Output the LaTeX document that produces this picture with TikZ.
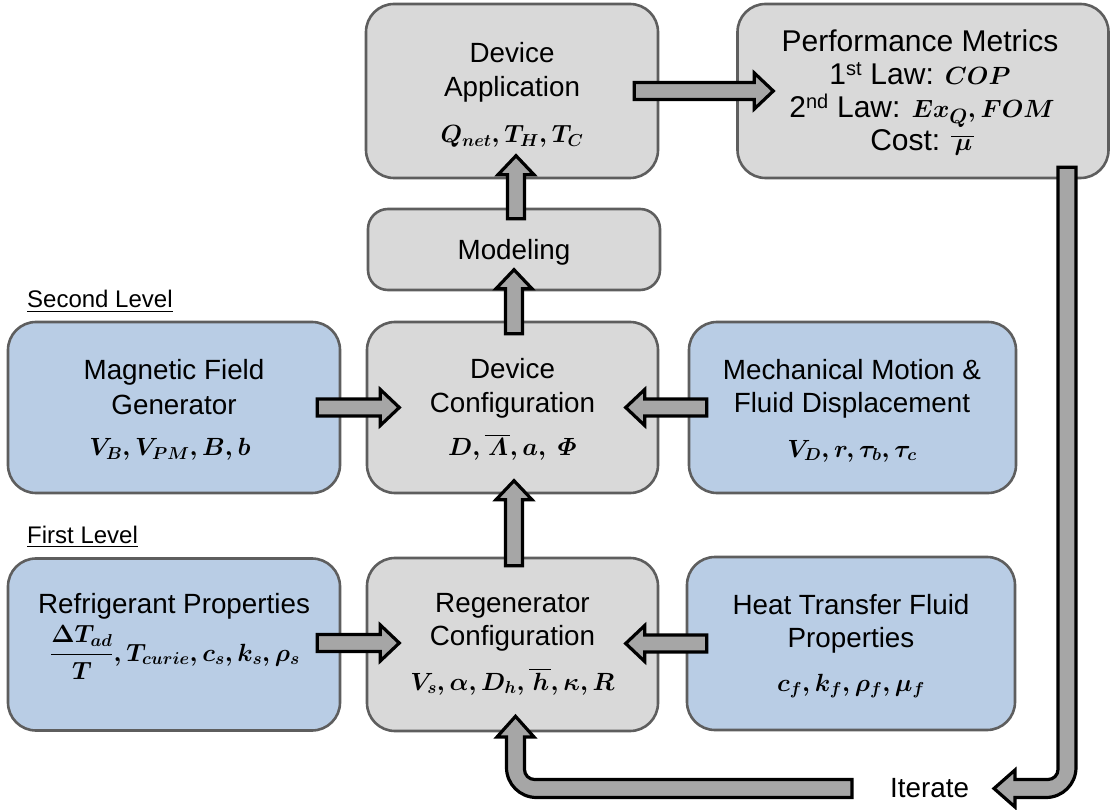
\documentclass[tikz,border=0pt]{standalone}
\usepackage{fontspec}
\setmainfont{Liberation Sans}
\usepackage{amsmath}
\DeclareMathSizes{24.5}{24.5}{19}{15}
\DeclareMathSizes{30}{26}{20}{16}
\usetikzlibrary{calc}
\definecolor{boxgray}{HTML}{D9D9D9}
\definecolor{boxblue}{HTML}{B9CDE5}
\definecolor{bordergray}{HTML}{5E5E5E}
\definecolor{arrowgray}{HTML}{A6A6A6}
\newcommand{\blockarr}[3]{%
  \draw[blockarrow,shift={(#1)},rotate=#2] (0,-8.5) -- ({#3-19},-8.5) -- ({#3-19},-18) -- (#3,0) -- ({#3-19},18) -- ({#3-19},8.5) -- (0,8.5) -- cycle;}
\newcommand{\sbar}[1]{\overline{\mkern2mu#1\mkern1mu}}
\begin{document}
\begin{tikzpicture}[x=1pt,y=-1pt,
  box/.style={draw=bordergray, line width=2.6pt, rounded corners=28pt, inner sep=0pt},
  graybox/.style={box, fill=boxgray},
  bluebox/.style={box, fill=boxblue},
  title/.style={font=\fontsize{27.8}{33}\selectfont, inner sep=0pt, anchor=base},
  ptitle/.style={font=\fontsize{30}{36}\selectfont\boldmath, inner sep=0pt, anchor=base},
  mathlbl/.style={font=\fontsize{24.5}{29}\selectfont\boldmath, inner sep=0pt, anchor=base},
  blockarrow/.style={draw=black, fill=arrowgray, line width=3.2pt},
  lvl/.style={font=\fontsize{24}{28}\selectfont, inner sep=0pt, anchor=base west}]
\useasboundingbox (0,0) rectangle (1112,810);

% boxes
\node[graybox, minimum width=292, minimum height=174] (app) at (512,91) {};
\node[graybox, minimum width=371, minimum height=174] (perf) at (923,91) {};
\node[graybox, minimum width=292, minimum height=81, rounded corners=20pt] (model) at (514,249.5) {};
\node[bluebox, minimum width=332, minimum height=171] (mag) at (174,407.5) {};
\node[graybox, minimum width=291, minimum height=171] (dev) at (512.5,407.5) {};
\node[bluebox, minimum width=327, minimum height=171] (mech) at (852.5,407.5) {};
\node[bluebox, minimum width=332, minimum height=172] (ref) at (174,644.5) {};
\node[graybox, minimum width=291, minimum height=173] (reg) at (512.5,644.5) {};
\node[bluebox, minimum width=328, minimum height=173] (heat) at (851,643.5) {};

% texts
\node[title] (appA) at (512,63) {Device};
\node[title] (appB) at (512,97) {Application};
\node[mathlbl] (appC) at (512,143) {$Q_{net}, T_H, T_C$};

\node[ptitle] (perfA) at (920,52) {Performance Metrics};
\node[ptitle] (perfB) at (920,85) {1\textsuperscript{st} Law: $COP$};
\node[ptitle] (perfC) at (922,118) {2\textsuperscript{nd} Law: $Ex_Q, FOM$};
\node[ptitle] (perfD) at (922,151) {Cost: $\sbar{\mu}$};

\node[title] (modelA) at (514,260) {Modeling};

\node[title] (magA) at (174,380) {Magnetic Field};
\node[title] (magB) at (174,414) {Generator};
\node[mathlbl] (magC) at (170,456) {$V_B, V_{PM}, B, b$};

\node[title] (devA) at (512.5,379) {Device};
\node[title] (devB) at (512.5,413) {Configuration};
\node[mathlbl] (devC) at (512.5,456) {$D, \sbar{\varLambda}, a,\ \varPhi$};

\node[title] (mechA) at (852,380) {Mechanical Motion \&};
\node[title] (mechB) at (852,413) {Fluid Displacement};
\node[mathlbl] (mechC) at (852,457) {$V_D, r, \tau_b, \tau_c$};

\node[title] (refA) at (174,613) {Refrigerant Properties};
\node[mathlbl] (refC) at (175,661) {$\dfrac{\Delta T_{ad}}{T}, T_{curie}, c_s, k_s, \rho_s$};

\node[title] (regA) at (512.5,612) {Regenerator};
\node[title] (regB) at (512.5,645) {Configuration};
\node[mathlbl] (regC) at (512.5,690) {$V_s, \alpha, D_h, \sbar{h}, \kappa, R$};

\node[title] (heatA) at (851,614) {Heat Transfer Fluid};
\node[title] (heatB) at (851,647) {Properties};
\node[mathlbl] (heatC) at (851,691) {$c_f, k_f, \rho_f, \mu_f$};

\node[lvl] (lvl2) at (27,308) {\underline{Second Level}};
\node[lvl] (lvl1) at (27,543) {\underline{First Level}};
\node[title, anchor=base west] (iter) at (890,797) {Iterate};

% straight block arrows
\coordinate (t1) at ($(app.east)+(-25,0)$);
\coordinate (t2) at ($(model.north)+(2,11)$);
\coordinate (t3) at ($(dev.north)+(1.5,13)$);
\coordinate (t4) at ($(reg.north)+(1.5,9)$);
\coordinate (t5) at ($(mag.east)+(-24,0)$);
\coordinate (t6) at ($(mech.west)+(19,0)$);
\coordinate (t7) at ($(ref.east)+(-24,-1.5)$);
\coordinate (t8) at ($(heat.west)+(21,0)$);
\blockarr{t1}{0}{139}
\blockarr{t2}{90}{63}
\blockarr{t3}{90}{64}
\blockarr{t4}{90}{85}
\blockarr{t5}{0}{82}
\blockarr{t6}{180}{81}
\blockarr{t7}{0}{82}
\blockarr{t8}{180}{81}

% iterate arrows
\coordinate (itStart) at ($(perf.south)+(135,-12)$);
\draw[blockarrow] (itStart -| 1058,0) -- (1058,769.5) .. controls (1058,775) and (1053.5,779.5) .. (1048,779.5)
  -- (1015,779.5) -- (1015,770) -- (994,788.5) -- (1015,807) -- (1015,797.5) -- (1046,797.5)
  .. controls (1062.6,797.5) and (1076,784.1) .. (1076,767.5) -- (itStart -| 1076,0) -- cycle;
\coordinate (itTip) at ($(reg.south)+(3,-16)$);
\draw[blockarrow] (852,779.5) -- (534.5,779.5) .. controls (529,779.5) and (524.5,775) .. (524.5,769.5)
  -- (524.5,737) -- (534,737) -- (itTip) -- (497,737) -- (506.5,737) -- (506.5,767.5)
  .. controls (506.5,784.1) and (519.9,797.5) .. (536.5,797.5) -- (852,797.5) -- cycle;
\end{tikzpicture}
\end{document}
